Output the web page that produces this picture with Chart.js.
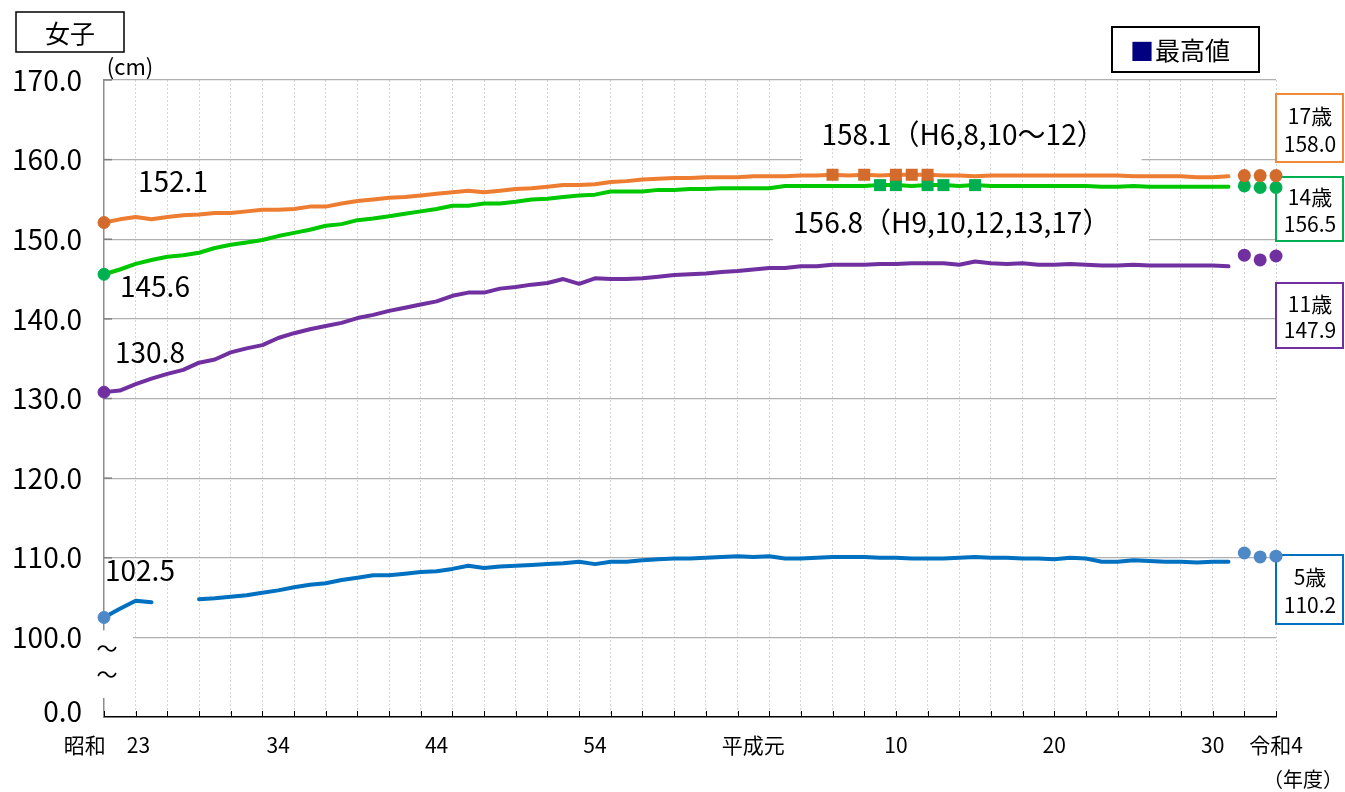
<!DOCTYPE html>
<html lang="ja">
<head>
<meta charset="utf-8">
<title>身長の推移（女子）</title>
<script src="https://cdn.jsdelivr.net/npm/chart.js@4.4.1/dist/chart.umd.min.js"></script>
<style>
  html, body { margin: 0; padding: 0; background: #fff; }
  canvas { display: block; }
</style>
</head>
<body>
<canvas id="grafico" width="1345" height="792"></canvas>
<script>
const FONT = '"Noto Sans CJK JP", "Noto Sans", sans-serif';

// 年度 (昭和23 = 1948 .. 令和4 = 2022)
const firstYear = 1948;
const lastYear = 2022;
const years = [];
for (let y = firstYear; y <= lastYear; y++) years.push(y);

// x axis labels
const tickYears = [1948, 1959, 1969, 1979, 1989, 1998, 2008, 2018, 2022];
const tickLabels = ["昭和　23", "34", "44", "54", "平成元", "10", "20", "30", "令和4"];

// 1948..2019, continuous line
const age17 = [
  152.1, 152.5, 152.8, 152.5, 152.8, 153.0, 153.1, 153.3, 153.3, 153.5,
  153.7, 153.7, 153.8, 154.1, 154.1, 154.5, 154.8, 155.0, 155.2, 155.3,
  155.5, 155.7, 155.9, 156.1, 155.9, 156.1, 156.3, 156.4, 156.6, 156.8,
  156.8, 156.9, 157.2, 157.3, 157.5, 157.6, 157.7, 157.7, 157.8, 157.8,
  157.8, 157.9, 157.9, 157.9, 158.0, 158.0, 158.1, 158.0, 158.1, 158.0,
  158.1, 158.1, 158.1, 158.0, 158.0, 157.9, 158.0, 158.0, 158.0, 158.0,
  158.0, 158.0, 158.0, 158.0, 158.0, 157.9, 157.9, 157.9, 157.9, 157.8,
  157.8, 157.9
];
const age14 = [
  145.6, 146.2, 146.9, 147.4, 147.8, 148.0, 148.3, 148.9, 149.3, 149.6,
  149.9, 150.4, 150.8, 151.2, 151.7, 151.9, 152.4, 152.6, 152.9, 153.2,
  153.5, 153.8, 154.2, 154.2, 154.5, 154.5, 154.7, 155.0, 155.1, 155.3,
  155.5, 155.6, 156.0, 156.0, 156.0, 156.2, 156.2, 156.3, 156.3, 156.4,
  156.4, 156.4, 156.4, 156.7, 156.7, 156.7, 156.7, 156.7, 156.7, 156.8,
  156.8, 156.7, 156.8, 156.8, 156.7, 156.8, 156.7, 156.7, 156.7, 156.7,
  156.7, 156.7, 156.7, 156.6, 156.6, 156.7, 156.6, 156.6, 156.6, 156.6,
  156.6, 156.6
];
const age11 = [
  130.8, 131.0, 131.8, 132.5, 133.1, 133.6, 134.5, 134.9, 135.8, 136.3,
  136.7, 137.6, 138.2, 138.7, 139.1, 139.5, 140.1, 140.5, 141.0, 141.4,
  141.8, 142.2, 142.9, 143.3, 143.3, 143.8, 144.0, 144.3, 144.5, 145.0,
  144.4, 145.1, 145.0, 145.0, 145.1, 145.3, 145.5, 145.6, 145.7, 145.9,
  146.0, 146.2, 146.4, 146.4, 146.6, 146.6, 146.8, 146.8, 146.8, 146.9,
  146.9, 147.0, 147.0, 147.0, 146.8, 147.2, 147.0, 146.9, 147.0, 146.8,
  146.8, 146.9, 146.8, 146.7, 146.7, 146.8, 146.7, 146.7, 146.7, 146.7,
  146.7, 146.6
];
const age5 = [
  102.5, 103.6, 104.6, 104.4, null, null, 104.8, 104.9, 105.1, 105.3,
  105.6, 105.9, 106.3, 106.6, 106.8, 107.2, 107.5, 107.8, 107.8, 108.0,
  108.2, 108.3, 108.6, 109.0, 108.7, 108.9, 109.0, 109.1, 109.2, 109.3,
  109.5, 109.2, 109.5, 109.5, 109.7, 109.8, 109.9, 109.9, 110.0, 110.1,
  110.2, 110.1, 110.2, 109.9, 109.9, 110.0, 110.1, 110.1, 110.1, 110.0,
  110.0, 109.9, 109.9, 109.9, 110.0, 110.1, 110.0, 110.0, 109.9, 109.9,
  109.8, 110.0, 109.9, 109.5, 109.5, 109.7, 109.6, 109.5, 109.5, 109.4,
  109.5, 109.5
];

// 令和2..4, shown as separate dots
const recentYears = [2020, 2021, 2022];
const recent17 = [158.0, 158.0, 158.0];
const recent14 = [156.7, 156.5, 156.5];
const recent11 = [148.0, 147.4, 147.9];
const recent5 = [110.6, 110.1, 110.2];

// 最高値
const max17Years = [1994, 1996, 1998, 1999, 2000];
const max17 = 158.1;
const max14Years = [1997, 1998, 2000, 2001, 2003];
const max14 = 156.8;

function spread(values, fromYear) {
  const out = years.map(() => null);
  const start = years.indexOf(fromYear);
  values.forEach((v, i) => { out[start + i] = v; });
  return out;
}

function markAt(list, value) {
  return years.map((y) => (list.includes(y) ? value : null));
}

function lineSet(values, color, dotColor) {
  return {
    data: spread(values, firstYear),
    borderColor: color,
    borderWidth: 4,
    tension: 0,
    borderCapStyle: "round",
    borderJoinStyle: "round",
    pointRadius: (c) => (c.dataIndex === 0 ? 6 : 0),
    pointBackgroundColor: dotColor,
    pointBorderColor: dotColor,
    pointBorderWidth: 1,
    clip: false,
    order: 3,
  };
}

function dotSet(values, color) {
  return {
    data: spread(values, recentYears[0]),
    showLine: false,
    pointRadius: 6.5,
    pointBackgroundColor: color,
    pointBorderColor: color,
    pointBorderWidth: 0,
    clip: false,
    order: 1,
  };
}

function maxSet(list, value, color) {
  return {
    data: markAt(list, value),
    showLine: false,
    pointStyle: "rect",
    pointRadius: 8.5,
    pointBackgroundColor: color,
    pointBorderColor: color,
    pointBorderWidth: 0,
    clip: false,
    order: 2,
  };
}

function text(ctx, s, x, y, size, align, color) {
  ctx.font = size + "px " + FONT;
  ctx.textAlign = align || "center";
  ctx.textBaseline = "middle";
  ctx.fillStyle = color || "#000";
  ctx.fillText(s, x, y);
}

function box(ctx, x, y, w, h, color, lw) {
  ctx.fillStyle = "#fff";
  ctx.fillRect(x, y, w, h);
  ctx.strokeStyle = color;
  ctx.lineWidth = lw;
  ctx.strokeRect(x, y, w, h);
}

const decor = {
  id: "decor",
  beforeDatasetsDraw(chart) {
    const ctx = chart.ctx;
    const xs = chart.scales.x;
    const ys = chart.scales.y;
    const area = chart.chartArea;
    const px = (yr) => xs.getPixelForValue(years.indexOf(yr));
    const py = (v) => ys.getPixelForValue(v);

    ctx.save();

    // tick marks on the inside
    ctx.strokeStyle = "#000";
    ctx.lineWidth = 1;
    years.forEach((yr, i) => {
      if (i % 2) return;
      const x = Math.round(px(yr)) + 0.5;
      ctx.beginPath();
      ctx.moveTo(x, area.bottom);
      ctx.lineTo(x, area.bottom - 6);
      ctx.stroke();
    });
    ctx.strokeStyle = "#7f7f7f";
    ctx.lineWidth = 1.5;
    for (let v = 110; v <= 170; v += 10) {
      ctx.beginPath();
      ctx.moveTo(area.left, py(v));
      ctx.lineTo(area.left + 8, py(v));
      ctx.stroke();
    }

    // axis break
    ctx.fillStyle = "#fff";
    ctx.fillRect(area.left - 8, py(100) - 7, 37, py(92.4) - py(100) + 7);
    text(ctx, "～", area.left + 3, 648, 21);
    text(ctx, "～", area.left + 3, 674, 21);
    text(ctx, "0.0", area.left - 22, 711, 28, "right");

    // gaps in the grid behind the 最高値 labels
    ctx.fillStyle = "#fff";
    ctx.fillRect(px(max17Years[0]) - 30, py(160) - 2, 339, 4);
    ctx.fillRect(px(max14Years[0]) - 107, py(150) - 2, 376, 4);

    // value labels at the start
    text(ctx, age17[0].toFixed(1), px(firstYear) + 34, py(age17[0]) - 41, 28, "left");
    text(ctx, age14[0].toFixed(1), px(firstYear) + 16, py(age14[0]) + 12, 28, "left");
    text(ctx, age11[0].toFixed(1), px(firstYear) + 11, py(age11[0]) - 40, 28, "left");
    text(ctx, age5[0].toFixed(1), px(firstYear) + 1, py(age5[0]) - 47, 28, "left");

    text(ctx, max17.toFixed(1) + "（H6,8,10～12）", px(max17Years[0]) - 11, py(max17) - 40, 28, "left");
    text(ctx, max14.toFixed(1) + "（H9,10,12,13,17）", px(max14Years[0]) - 87, py(max14) + 37, 28, "left");

    // age boxes on the right
    const last = recentYears.length - 1;
    const tags = [
      ["17歳", recent17[last], 94, 68, "#F08A3C"],
      ["14歳", recent14[last], 177, 64, "#00B050"],
      ["11歳", recent11[last], 283, 65, "#7030A0"],
      ["5歳", recent5[last], 555, 69, "#0070C0"],
    ];
    tags.forEach(([name, v, top, h, color]) => {
      box(ctx, 1276, top, 67, h, color, 2);
      text(ctx, name, 1310, top + h * 0.32, 21);
      text(ctx, v.toFixed(1), 1310, top + h * 0.73, 21);
    });

    // title and legend
    box(ctx, 16, 12, 108, 40, "#000", 1.5);
    text(ctx, "女子", 70, 33, 25);
    box(ctx, 1112, 27, 147, 45, "#000", 2);
    text(ctx, "■", 1142, 51, 24, "center", "#000080");
    text(ctx, "最高値", 1155, 50, 25, "left");

    text(ctx, "(cm)", 130, 67, 22);

    // x labels
    tickYears.forEach((yr, i) => {
      const dx = i === 0 ? 3 : 0;
      text(ctx, tickLabels[i], px(yr) + dx, 745, 21);
    });
    text(ctx, "（年度）", 1303, 779, 20);

    ctx.restore();
  },
};

new Chart(document.getElementById("grafico"), {
  type: "line",
  data: {
    labels: years,
    datasets: [
      lineSet(age17, "#ED7D31", "#D26B2C"),
      lineSet(age14, "#00C800", "#00B050"),
      lineSet(age11, "#7030A0", "#7030A0"),
      lineSet(age5, "#0070C0", "#4F88C6"),
      maxSet(max17Years, max17, "#D26B2C"),
      maxSet(max14Years, max14, "#00B050"),
      dotSet(recent17, "#D26B2C"),
      dotSet(recent14, "#00B050"),
      dotSet(recent11, "#7030A0"),
      dotSet(recent5, "#4F88C6"),
    ],
  },
  options: {
    responsive: false,
    animation: false,
    layout: { padding: { left: 0, top: 80, right: 69, bottom: 0 } },
    plugins: {
      legend: { display: false },
      tooltip: { enabled: false },
    },
    scales: {
      x: {
        type: "category",
        offset: false,
        ticks: { display: false, autoSkip: false },
        grid: {
          drawTicks: false,
          color: (c) => (c.index > 0 && c.index % 2 === 0 ? "#d4d4d4" : "rgba(0,0,0,0)"),
          lineWidth: 1,
        },
        border: { display: true, color: "#000", width: 1.5, dash: [2, 2] },
        afterFit: (s) => { s.height = 75; },
      },
      y: {
        min: 90,
        max: 170,
        ticks: {
          stepSize: 10,
          padding: 22,
          color: "#000",
          font: { family: FONT, size: 28 },
          callback: (v) => (v === 90 ? "" : v.toFixed(1)),
        },
        grid: {
          drawTicks: false,
          color: (c) => (c.tick && c.tick.value === 90 ? "rgba(0,0,0,0)" : "#b0b0b0"),
          lineWidth: 1.2,
        },
        border: { display: true, color: "#8c8c8c", width: 1.5 },
        afterFit: (s) => { s.width = 104; },
      },
    },
  },
  plugins: [decor],
});
</script>
</body>
</html>
